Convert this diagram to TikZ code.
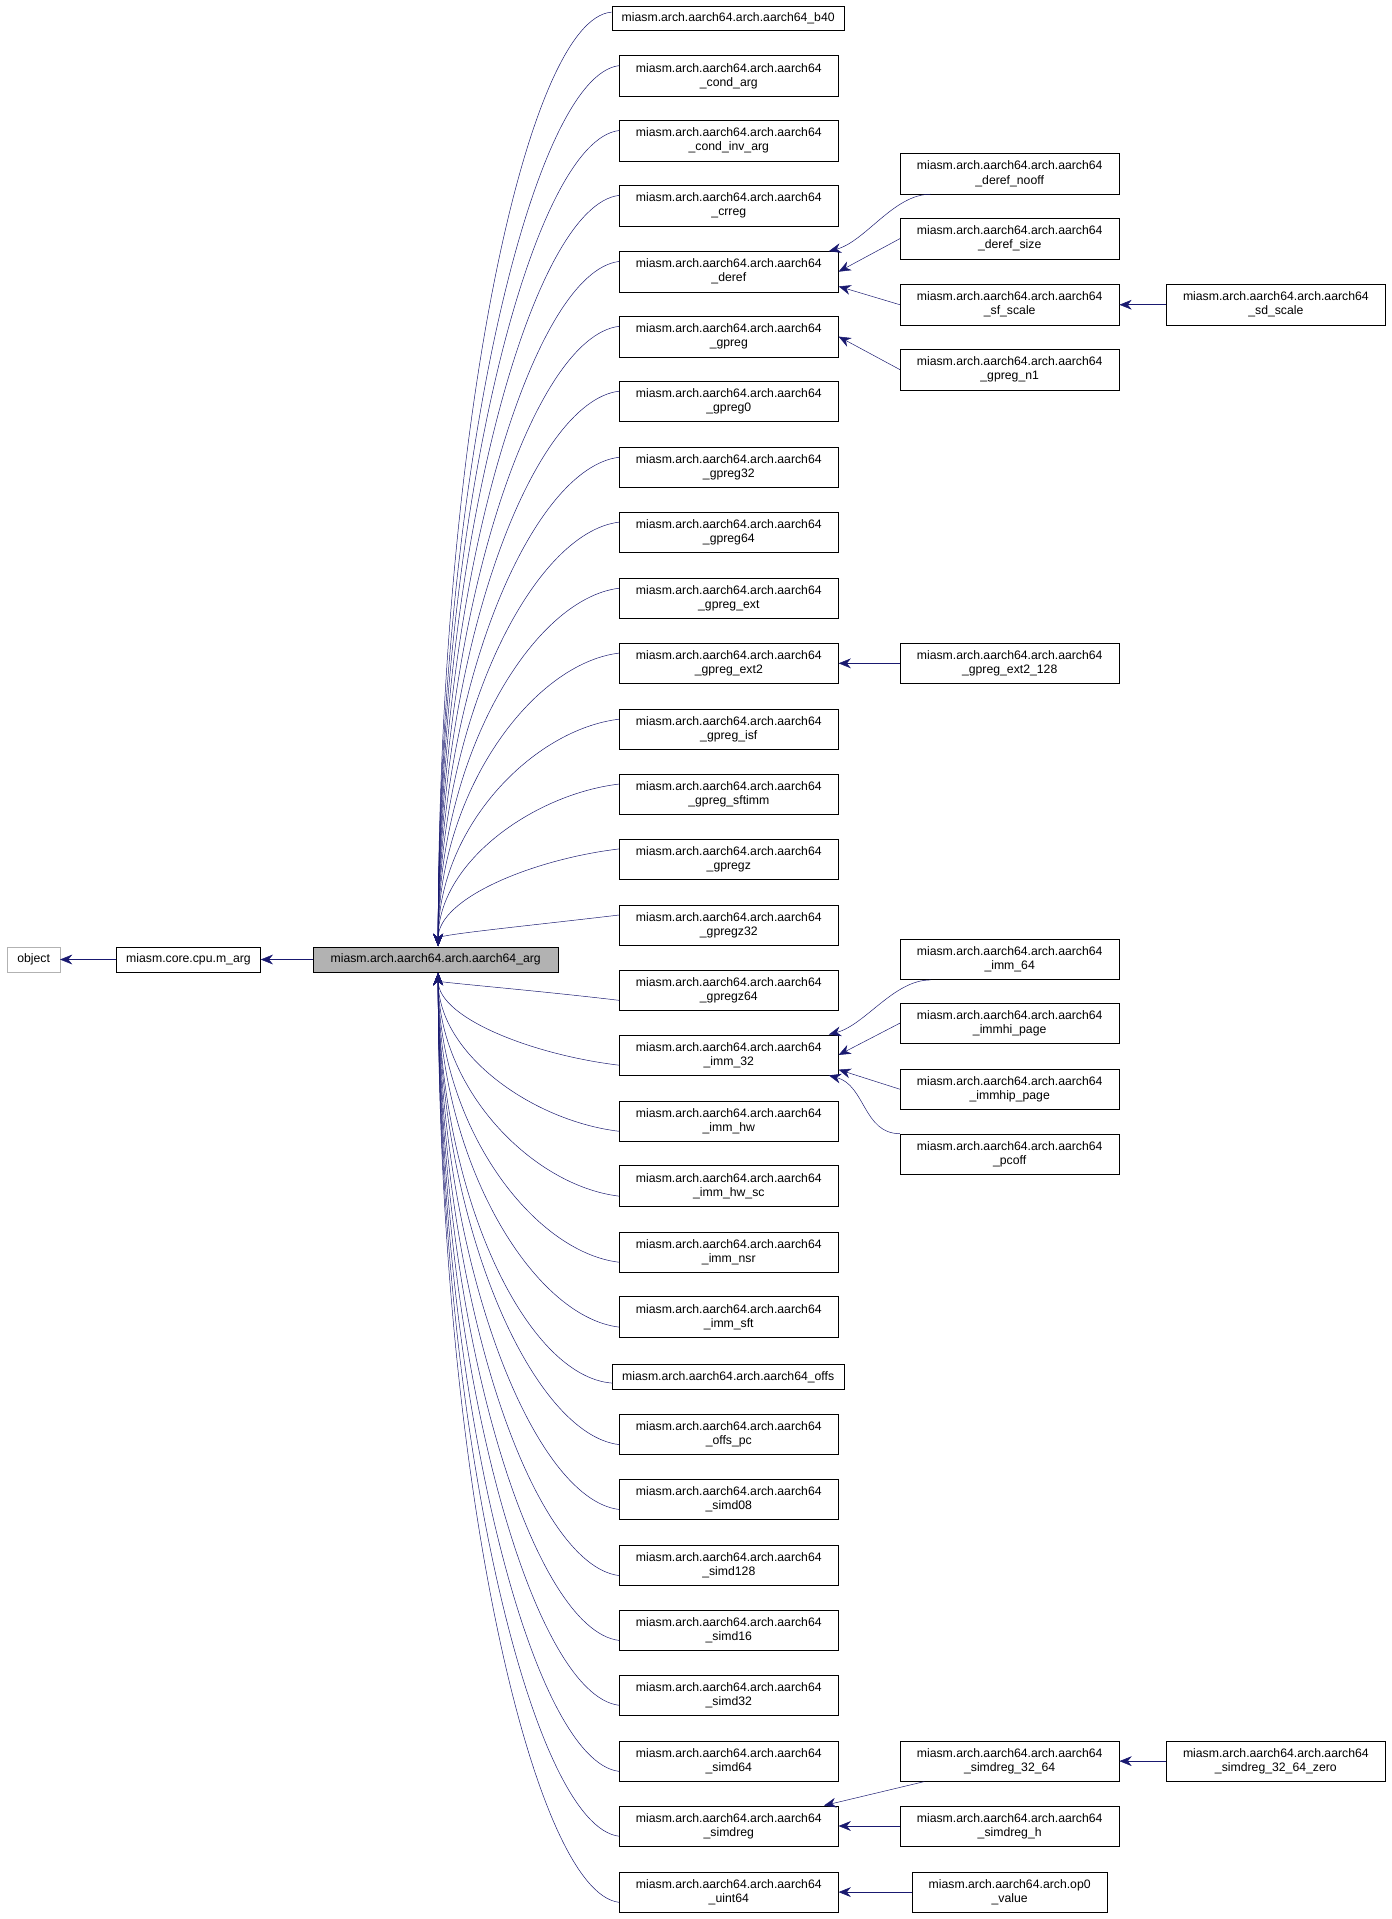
\documentclass[tikz,border=0pt]{standalone}
\usepackage{fontspec}
\setmainfont{Liberation Sans}
\usetikzlibrary{arrows.meta,calc}
\definecolor{edge}{HTML}{191970}
\begin{document}
\begin{tikzpicture}[x=1pt,y=-1pt,
  box/.style={draw=black,fill=white,font=\fontsize{10}{11.5}\selectfont,align=center,inner sep=2pt,minimum height=33},
  two/.style={box,minimum width=179},
  one/.style={box,minimum height=20,inner xsep=8pt},
  arr/.style={draw=edge,{Stealth[length=10pt,width=8pt]}-}]
\useasboundingbox (0,0) rectangle (1137,1568);
\newcommand{\cn}[4]{\node[two] (#1) at (#2,#3) {miasm.arch.aarch64.arch.aarch64\\#4};}
\node[one,draw=gray!60] (obj) at (27.5,784) {object};
\node[one] (marg) at (154,784) {miasm.core.cpu.m\_arg};
\node[one,fill=gray!60,minimum width=200] (arg) at (356,784) {miasm.arch.aarch64.arch.aarch64\_arg};
\draw[arr] (obj) -- (marg);
\draw[arr] (marg) -- (arg);
\coordinate (tp) at (358,773);
\coordinate (bt) at (358,795);
\node[one] (b40) at (595,15) {miasm.arch.aarch64.arch.aarch64\_b40};
\cn{condarg}{595.5}{62}{\_cond\_arg}
\cn{condinv}{595.5}{115}{\_cond\_inv\_arg}
\cn{crreg}{595.5}{168}{\_crreg}
\cn{deref}{595.5}{222}{\_deref}
\cn{gpreg}{595.5}{275}{\_gpreg}
\cn{gpregA}{595.5}{328}{\_gpreg0}
\cn{gpregB}{595.5}{382}{\_gpreg32}
\cn{gpregC}{595.5}{435}{\_gpreg64}
\cn{gpext}{595.5}{489}{\_gpreg\_ext}
\cn{gpextB}{595.5}{542}{\_gpreg\_ext2}
\cn{isf}{595.5}{596}{\_gpreg\_isf}
\cn{sftimm}{595.5}{649}{\_gpreg\_sftimm}
\cn{gpregz}{595.5}{702}{\_gpregz}
\cn{gpregzA}{595.5}{756}{\_gpregz32}
\cn{gpregzB}{595.5}{809}{\_gpregz64}
\cn{immA}{595.5}{862}{\_imm\_32}
\cn{immhw}{595.5}{916}{\_imm\_hw}
\cn{immhwsc}{595.5}{969}{\_imm\_hw\_sc}
\cn{immnsr}{595.5}{1023}{\_imm\_nsr}
\cn{immsft}{595.5}{1076}{\_imm\_sft}
\node[one] (offs) at (595,1125) {miasm.arch.aarch64.arch.aarch64\_offs};
\cn{offspc}{595.5}{1172}{\_offs\_pc}
\cn{simdA}{595.5}{1225}{\_simd08}
\cn{simdB}{595.5}{1279}{\_simd128}
\cn{simdC}{595.5}{1332}{\_simd16}
\cn{simdD}{595.5}{1385}{\_simd32}
\cn{simdE}{595.5}{1439}{\_simd64}
\cn{simdreg}{595.5}{1492}{\_simdreg}
\cn{uint}{595.5}{1546}{\_uint64}
% column 3
\cn{nooff}{825}{142}{\_deref\_nooff}
\cn{dsize}{825}{195}{\_deref\_size}
\cn{sfscale}{825}{249}{\_sf\_scale}
\cn{gpn}{825}{302}{\_gpreg\_n1}
\cn{ext128}{825}{542}{\_gpreg\_ext2\_128}
\cn{imm64}{825}{784}{\_imm\_64}
\cn{immhi}{825}{836}{\_immhi\_page}
\cn{immhip}{825}{890}{\_immhip\_page}
\cn{pcoff}{825}{943}{\_pcoff}
\cn{sr3264}{825}{1439}{\_simdreg\_32\_64}
\cn{srh}{825}{1492}{\_simdreg\_h}
\node[box,minimum width=159] (op0) at (825,1546) {miasm.arch.aarch64.arch.op0\\\_value};
% column 4
\cn{sdscale}{1042.5}{249}{\_sd\_scale}
\cn{zero}{1042.5}{1439}{\_simdreg\_32\_64\_zero}
% edges to arg
\foreach \n in {b40,condarg,condinv,crreg,deref,gpreg,gpregA,gpregB,gpregC,gpext,gpextB,isf,sftimm,gpregz,gpregzA}{
  \draw[arr] (tp) .. controls ($(tp)!0.55!(tp|-\n.west)$) and ($(\n.west)+(-70,0)$) .. ($(\n.west)!0.5!(\n.north west)$);}
\foreach \n in {gpregzB,immA,immhw,immhwsc,immnsr,immsft,offs,offspc,simdA,simdB,simdC,simdD,simdE,simdreg,uint}{
  \draw[arr] (bt) .. controls ($(bt)!0.55!(bt|-\n.west)$) and ($(\n.west)+(-70,0)$) .. ($(\n.west)!0.5!(\n.south west)$);}
% column 3 edges
\draw[arr] ($(deref.north east)+(-8,0)$) .. controls +(30,-8) and +(-30,0) .. ($(nooff.south west)+(25,0)$);
\draw[arr] (deref.east) -- (dsize.west);
\draw[arr] ($(deref.east)+(0,12)$) -- (sfscale.west);
\draw[arr] (gpreg.east) -- (gpn.west);
\draw[arr] (gpextB.east) -- (ext128.west);
\draw[arr] ($(immA.north east)+(-8,0)$) .. controls +(30,-8) and +(-30,0) .. ($(imm64.south west)+(25,0)$);
\draw[arr] (immA.east) -- (immhi.west);
\draw[arr] ($(immA.east)+(0,12)$) -- (immhip.west);
\draw[arr] ($(immA.south east)+(-8,0)$) .. controls +(30,8) and +(-30,0) .. ($(pcoff.north west)+(0,0)$);
\draw[arr] ($(simdreg.north east)+(-12,0)$) -- ($(sr3264.south west)+(20,0)$);
\draw[arr] (simdreg.east) -- (srh.west);
\draw[arr] (uint.east) -- (op0.west);
\draw[arr] (sfscale.east) -- (sdscale.west);
\draw[arr] (sr3264.east) -- (zero.west);
\end{tikzpicture}
\end{document}
